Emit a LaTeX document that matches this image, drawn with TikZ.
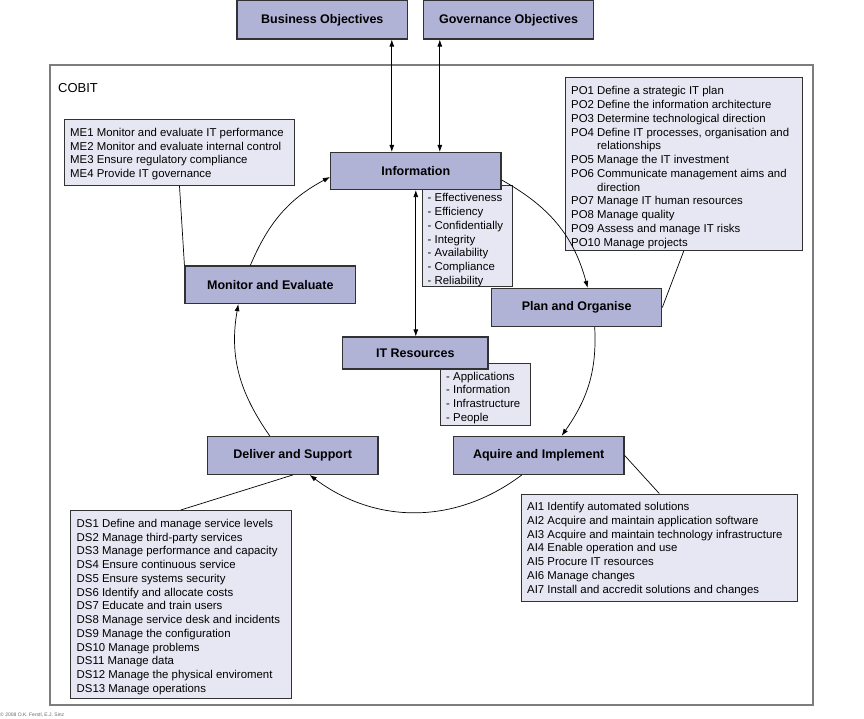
\documentclass[tikz,border=0pt]{standalone}
\usepackage{fontspec}
\setmainfont{Liberation Sans}
\usetikzlibrary{positioning,arrows.meta}

\definecolor{procfill}{RGB}{176,178,214}
\definecolor{listfill}{RGB}{231,231,243}
\definecolor{boxline}{RGB}{50,50,50}
\definecolor{framegray}{RGB}{125,125,125}

\newcommand{\itemlist}[1]{\begin{tabular}[t]{@{}l@{}}#1\end{tabular}}

\tikzset{
	proc/.style={draw=boxline, line width=1.2pt, fill=procfill,
		minimum width=170.5pt, minimum height=37.5pt, inner sep=0pt,
		font=\fontsize{12.5}{14}\selectfont\bfseries},
	items/.style={draw=boxline, line width=1pt, fill=listfill,
		anchor=north west, inner sep=0pt},
	itemtext/.style={anchor=base west, inner sep=0pt,
		font=\fontsize{11.4}{13.75}\selectfont},
	link/.style={line width=0.7pt},
}

\begin{document}
\begin{tikzpicture}[x=1pt,y=1pt,>={Latex[length=7pt,width=5pt]}]
	\useasboundingbox (0,0) rectangle (864,-719);

	% COBIT frame
	\draw[framegray, line width=1.2pt] (50,-65) rectangle (813,-705);
	\node[anchor=west, inner sep=0pt, font=\fontsize{13}{15}\selectfont]
		  (cobit) at (58,-88) {COBIT};
	\node[anchor=west, inner sep=0pt, text=black!60, font=\fontsize{5}{6}\selectfont]
		  (copy) at (0,-715) {© 2008 O.K. Ferstl, E.J. Sinz};

	% lists
	\node[items, minimum width=230pt, minimum height=66pt] (melist) at (64,-119) {};
	\node[itemtext] (metext) at ([shift={(6pt,-17.5pt)}]melist.north west)
		  {\itemlist{ME1 Monitor and evaluate IT performance\\
		   ME2 Monitor and evaluate internal control\\
		   ME3 Ensure regulatory compliance\\
		   ME4 Provide IT governance}};
	\node[items, minimum width=236.5pt, minimum height=172.5pt] (polist) at (565,-77.5) {};
	\node[itemtext] (potext) at ([shift={(6pt,-17.5pt)}]polist.north west)
		  {\itemlist{PO1 Define a strategic IT plan\\
		   PO2 Define the information architecture\\
		   PO3 Determine technological direction\\
		   PO4 Define IT processes, organisation and\\
		   \phantom{PO4 }relationships\\
		   PO5 Manage the IT investment\\
		   PO6 Communicate management aims and\\
		   \phantom{PO6 }direction\\
		   PO7 Manage IT human resources\\
		   PO8 Manage quality\\
		   PO9 Assess and manage IT risks\\
		   PO10 Manage projects}};
	\node[items, minimum width=90pt, minimum height=101pt] (infolist) at (421.5,-185) {};
	\node[itemtext] (infotext) at ([shift={(6pt,-17pt)}]infolist.north west)
		  {\itemlist{- Effectiveness\\
		   - Efficiency\\
		   - Confidentially\\
		   - Integrity\\
		   - Availability\\
		   - Compliance\\
		   - Reliability}};
	\node[items, minimum width=89.5pt, minimum height=62.5pt] (itlist) at (440,-362.7) {};
	\node[itemtext] (ittext) at ([shift={(6pt,-17.3pt)}]itlist.north west)
		  {\itemlist{- Applications\\
		   - Information\\
		   - Infrastructure\\
		   - People}};
	\node[items, minimum width=275.5pt, minimum height=107.5pt] (ailist) at (521,-493.5) {};
	\node[itemtext] (aitext) at ([shift={(6pt,-17.2pt)}]ailist.north west)
		  {\itemlist{AI1 Identify automated solutions\\
		   AI2 Acquire and maintain application software\\
		   AI3 Acquire and maintain technology infrastructure\\
		   AI4 Enable operation and use\\
		   AI5 Procure IT resources\\
		   AI6 Manage changes\\
		   AI7 Install and accredit solutions and changes}};
	\node[items, minimum width=220.5pt, minimum height=188pt] (dslist) at (70,-510) {};
	\node[itemtext] (dstext) at ([shift={(6.5pt,-17.3pt)}]dslist.north west)
		  {\itemlist{DS1 Define and manage service levels\\
		   DS2 Manage third-party services\\
		   DS3 Manage performance and capacity\\
		   DS4 Ensure continuous service\\
		   DS5 Ensure systems security\\
		   DS6 Identify and allocate costs\\
		   DS7 Educate and train users\\
		   DS8 Manage service desk and incidents\\
		   DS9 Manage the configuration\\
		   DS10 Manage problems\\
		   DS11 Manage data\\
		   DS12 Manage the physical enviroment\\
		   DS13 Manage operations}};

	% processes
	\node[proc, minimum height=38.2pt] (bus) at (322.3,-19.9) {Business Objectives};
	\node[proc, minimum height=38.2pt] (gov) at (508.5,-19.9) {Governance Objectives};
	\node[proc, minimum height=37pt] (info) at (415.8,-171) {Information};
	\node[proc, minimum width=145.5pt, minimum height=32pt]
		  (itres) at (415.3,-353) {IT Resources};
	\node[proc] (monitor) at (270.3,-284.8) {Monitor and Evaluate};
	\node[proc, minimum width=170pt, minimum height=38pt]
		  (plan) at (576.7,-307.5) {Plan and Organise};
	\node[proc, minimum height=38pt] (deliver) at (292.7,-455.4) {Deliver and Support};
	\node[proc, minimum height=38pt] (aquire) at (538.7,-455.4) {Aquire and Implement};

	\coordinate (bi) at ([xshift=-24pt]info.north);
	\coordinate (gi) at ([xshift=24pt]info.north);
	\draw[link,<->] (bus.south -| bi) -- (bi);
	\draw[link,<->] (gov.south -| gi) -- (gi);
	\draw[link,<->] (info.south) -- (info.south |- itres.north);

	% cycle
	\draw[link,->] ([yshift=-9pt]info.east) to[out=-29,in=105] ([xshift=11pt]plan.north);
	\draw[link,->] ([xshift=18pt]plan.south) to[out=-87,in=55] ([xshift=23pt]aquire.north);
	\draw[link,->] ([xshift=-17pt]aquire.south) to[out=-143,in=-37] ([xshift=17pt]deliver.south);
	\draw[link,->] ([xshift=-23pt]deliver.north) to[out=125,in=-100] ([xshift=-32pt]monitor.south);
	\draw[link,->] ([xshift=-20pt]monitor.north) to[out=67,in=-152] ([yshift=-6pt]info.west);

	% list links
	\draw[link] (melist.south) -- (monitor.north west);
	\draw[link] (polist.south) -- (plan.east);
	\draw[link] (aquire.east) -- (ailist.north);
	\draw[link] (deliver.south) -- (dslist.north);
\end{tikzpicture}
\end{document}
